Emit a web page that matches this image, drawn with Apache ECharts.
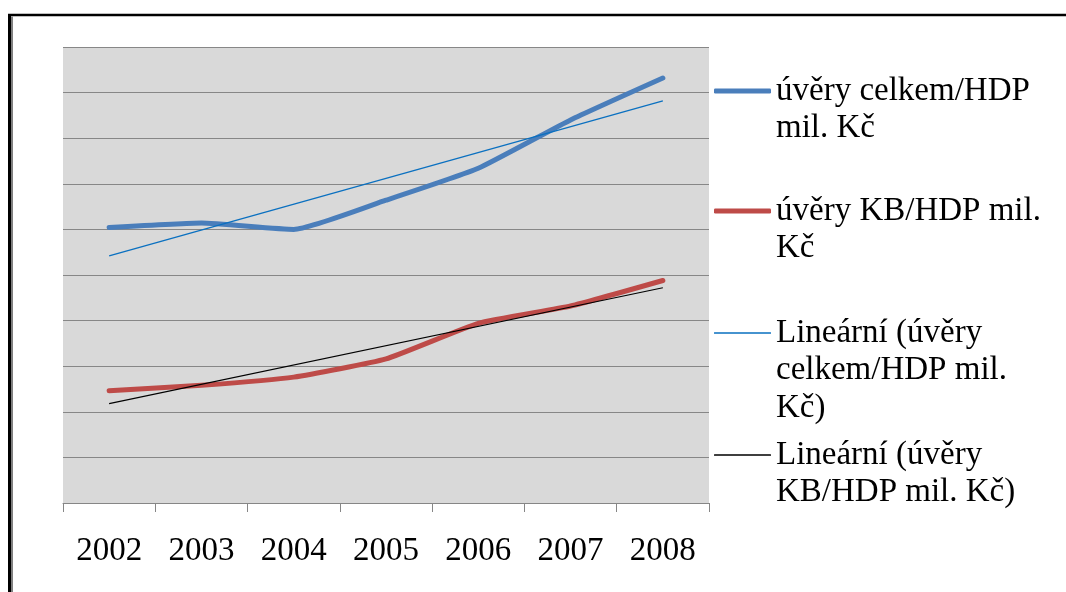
<!DOCTYPE html>
<html>
<head>
<meta charset="utf-8">
<title>Úvěry / HDP</title>
<script src="https://cdn.jsdelivr.net/npm/echarts@6/dist/echarts.min.js"></script>
<style>
  html, body { margin: 0; padding: 0; background: #ffffff; }
  #chart { width: 1066px; height: 592px; }
</style>
</head>
<body>
<div id="chart"></div>
<script>
// Years on the category axis
var years = ['2002', '2003', '2004', '2005', '2006', '2007', '2008'];

// Loans to GDP
var uveryCelkem = [30.2, 30.7, 30.0, 33.2, 36.7, 42.0, 46.6];
var uveryKB = [12.3, 12.9, 13.8, 15.8, 19.7, 21.6, 24.4];

// Linear trend lines: values at the first and last year
var trendCelkem = [27.1, null, null, null, null, null, 44.1];
var trendKB = [10.9, null, null, null, null, null, 23.6];

// Series names and how their legend text wraps
var names = [
  'úvěry celkem/HDP mil. Kč',
  'úvěry KB/HDP mil. Kč',
  'Lineární (úvěry celkem/HDP mil. Kč)',
  'Lineární (úvěry KB/HDP mil. Kč)'
];
var legendLines = [
  ['úvěry celkem/HDP', 'mil. Kč'],
  ['úvěry KB/HDP mil.', 'Kč'],
  ['Lineární (úvěry', 'celkem/HDP mil.', 'Kč)'],
  ['Lineární (úvěry', 'KB/HDP mil. Kč)']
];

var serifFont = '"Liberation Serif", "Times New Roman", "DejaVu Serif", serif';
var LINE_H = 37.5;

// Legend entries: the icon sits on the first line of the wrapped text
var iconCenters = [91, 211, 333, 455];
var iconThickness = [5, 5, 1.6, 1.5];
var legends = names.map(function (name, i) {
  var lines = legendLines[i];
  var blank = new Array(lines.length).join('\n'); // (n-1) leading blank lines
  var boxH = (2 * lines.length - 1) * LINE_H;
  return {
    data: [name],
    orient: 'vertical',
    left: 714,
    top: iconCenters[i] - boxH / 2,
    padding: 0,
    icon: 'roundRect',
    itemWidth: 57,
    itemHeight: iconThickness[i],
    selectedMode: false,
    formatter: function () { return blank + lines.join('\n'); },
    textStyle: {
      fontFamily: serifFont,
      fontSize: 33,
      color: '#000000',
      lineHeight: LINE_H
    }
  };
});

var chart = echarts.init(document.getElementById('chart'));
chart.setOption({
  backgroundColor: '#ffffff',
  animation: false,
  graphic: [
    { type: 'line', shape: { x1: 8, y1: 15, x2: 1070, y2: 15 }, style: { stroke: '#000', lineWidth: 2.5 } },
    { type: 'line', shape: { x1: 9.5, y1: 14, x2: 9.5, y2: 600 }, style: { stroke: '#000', lineWidth: 3 } },
    { type: 'line', shape: { x1: 12, y1: 16.5, x2: 12, y2: 600 }, style: { stroke: '#808080', lineWidth: 2 } }
  ],
  grid: {
    left: 63,
    top: 47,
    width: 646,
    height: 456,
    show: true,
    backgroundColor: '#d9d9d9',
    borderWidth: 0
  },
  legend: legends,
  xAxis: {
    type: 'category',
    data: years,
    boundaryGap: true,
    axisLine: { lineStyle: { color: '#868686', width: 1 } },
    axisTick: { show: true, inside: false, length: 9, alignWithLabel: false, lineStyle: { color: '#868686' } },
    axisLabel: {
      fontFamily: serifFont,
      fontSize: 33,
      color: '#000000',
      margin: 32,
      interval: 0
    },
    splitLine: { show: false }
  },
  yAxis: {
    type: 'value',
    min: 0,
    max: 50,
    interval: 5,
    axisLine: { show: false },
    axisTick: { show: false },
    axisLabel: { show: false },
    splitLine: { show: true, lineStyle: { color: '#878787', width: 1 } }
  },
  series: [
    {
      name: names[0],
      type: 'line',
      data: uveryCelkem,
      symbol: 'none',
      smooth: 0.15,
      color: '#4a7ebb',
      lineStyle: { width: 5, color: '#4a7ebb', cap: 'round', join: 'round' },
      z: 2
    },
    {
      name: names[1],
      type: 'line',
      data: uveryKB,
      symbol: 'none',
      smooth: 0.15,
      color: '#be4b48',
      lineStyle: { width: 5, color: '#be4b48', cap: 'round', join: 'round' },
      z: 2
    },
    {
      name: names[2],
      type: 'line',
      data: trendCelkem,
      connectNulls: true,
      symbol: 'none',
      color: '#0a70c0',
      lineStyle: { width: 1.3, color: '#0a70c0' },
      z: 3
    },
    {
      name: names[3],
      type: 'line',
      data: trendKB,
      connectNulls: true,
      symbol: 'none',
      color: '#000000',
      lineStyle: { width: 1.1, color: '#000000' },
      z: 3
    }
  ]
});
</script>
</body>
</html>
